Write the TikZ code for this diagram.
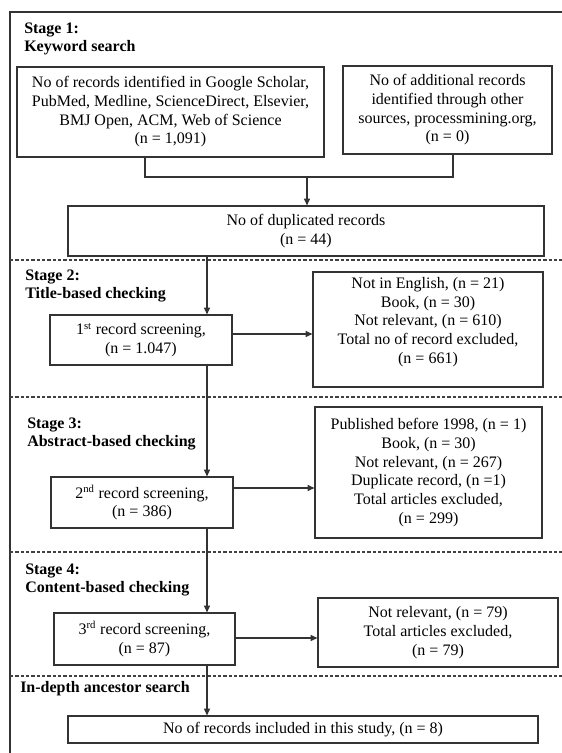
\documentclass[tikz,border=0pt]{standalone}
\usepackage{fontspec}
\setmainfont{Liberation Serif}
\usetikzlibrary{arrows.meta}
\begin{document}
\begin{tikzpicture}[x=0.75pt,y=-0.75pt,
  linec/.style={draw=black!80, line width=0.9pt},
  box/.style={linec, align=center, inner sep=0pt, font=\fontsize{12}{14}\selectfont},
  boxtext/.style={align=center, inner sep=0pt, font=\fontsize{12}{14}\selectfont},
  stagel/.style={anchor=west, align=left, inner sep=0pt, font=\fontsize{12}{14}\selectfont\bfseries},
  arr/.style={linec, -{Triangle[length=5pt,width=4.5pt]}},
  sepline/.style={draw=black!75, line width=0.8pt, dash pattern=on 2.4pt off 1.6pt}]
\useasboundingbox (0,0) rectangle (561,753);
\fill[white] (0,0) rectangle (561,753);
% outer frame (top and left)
\draw[linec] (10,753) -- (10,12) -- (562,12);
% stage separators
\draw[sepline] (10,260) -- (562,260);
\draw[sepline] (10,397) -- (562,397);
\draw[sepline] (10,552) -- (562,552);
\draw[sepline] (10,676) -- (562,676);
% stage labels
\node[stagel] (s1) at (24,39) {Stage 1:\\Keyword search};
\node[stagel] (s2) at (25,286) {Stage 2:\\Title-based checking};
\node[stagel] (s3) at (27,434) {Stage 3:\\Abstract-based checking};
\node[stagel] (s4) at (25,580) {Stage 4:\\Content-based checking};
\node[stagel] (s5) at (20,689) {In-depth ancestor search};
% boxes
\node[box, minimum width={307*0.75pt}, minimum height={90*0.75pt}] (A) at (170.5,112)
  {No of records identified in Google Scholar,\\PubMed, Medline, ScienceDirect, Elsevier,\\BMJ Open, ACM, Web of Science\\(n = 1,091)};
\node[box, minimum width={209*0.75pt}, minimum height={88*0.75pt}] (B) at (447.5,110)
  {No of additional records\\identified through other\\sources, processmining.org,\\(n = 0)};
\node[box, minimum width={476*0.75pt}, minimum height={50*0.75pt}] (C) at (306,231)
  {No of duplicated records\\(n = 44)};
\node[box, minimum width={182*0.75pt}, minimum height={50*0.75pt}] (D) at (141,340)
  {1\textsuperscript{st} record screening,\\(n = 1.047)};
\node[box, minimum width={230*0.75pt}, minimum height={115*0.75pt}] (E) at (428,329.5) {};
\node[boxtext] (Et) at (428,322)
  {Not in English, (n = 21)\\Book, (n = 30)\\Not relevant, (n = 610)\\Total no of record excluded,\\(n = 661)};
\node[box, minimum width={182*0.75pt}, minimum height={51*0.75pt}] (F) at (142,502.5)
  {2\textsuperscript{nd} record screening,\\(n = 386)};
\node[box, minimum width={227*0.75pt}, minimum height={131*0.75pt}] (G) at (428.5,472.5)
  {Published before 1998, (n = 1)\\Book, (n = 30)\\Not relevant, (n = 267)\\Duplicate record, (n =1)\\Total articles excluded,\\(n = 299)};
\node[box, minimum width={181*0.75pt}, minimum height={52*0.75pt}] (H) at (144.5,639)
  {3\textsuperscript{rd} record screening,\\(n = 87)};
\node[box, minimum width={240*0.75pt}, minimum height={69*0.75pt}] (I) at (438,632.5)
  {Not relevant, (n = 79)\\Total articles excluded,\\(n = 79)};
\node[box, minimum width={470*0.75pt}, minimum height={27*0.75pt}] (J) at (303,729.5)
  {No of records included in this study, (n = 8)};
% connectors
\coordinate (ax) at (145,177);
\coordinate (bx) at (453,177);
\coordinate (jn) at (307,177);
\draw[linec] (A.south -| ax) -- (ax) -- (bx) -- (B.south -| bx);
\draw[arr] (jn) -- (C.north -| jn);
\coordinate (vx) at (207,0);
\draw[arr] (C.south -| vx) -- (D.north -| vx);
\draw[arr] (D.south -| vx) -- (F.north -| vx);
\draw[arr] (F.south -| vx) -- (H.north -| vx);
\draw[arr] (H.south -| vx) -- (J.north -| vx);
\coordinate (y1) at (0,334);
\coordinate (y2) at (0,488);
\coordinate (y3) at (0,638);
\draw[arr] (D.east |- y1) -- (E.west |- y1);
\draw[arr] (F.east |- y2) -- (G.west |- y2);
\draw[arr] (H.east |- y3) -- (I.west |- y3);
\end{tikzpicture}
\end{document}
